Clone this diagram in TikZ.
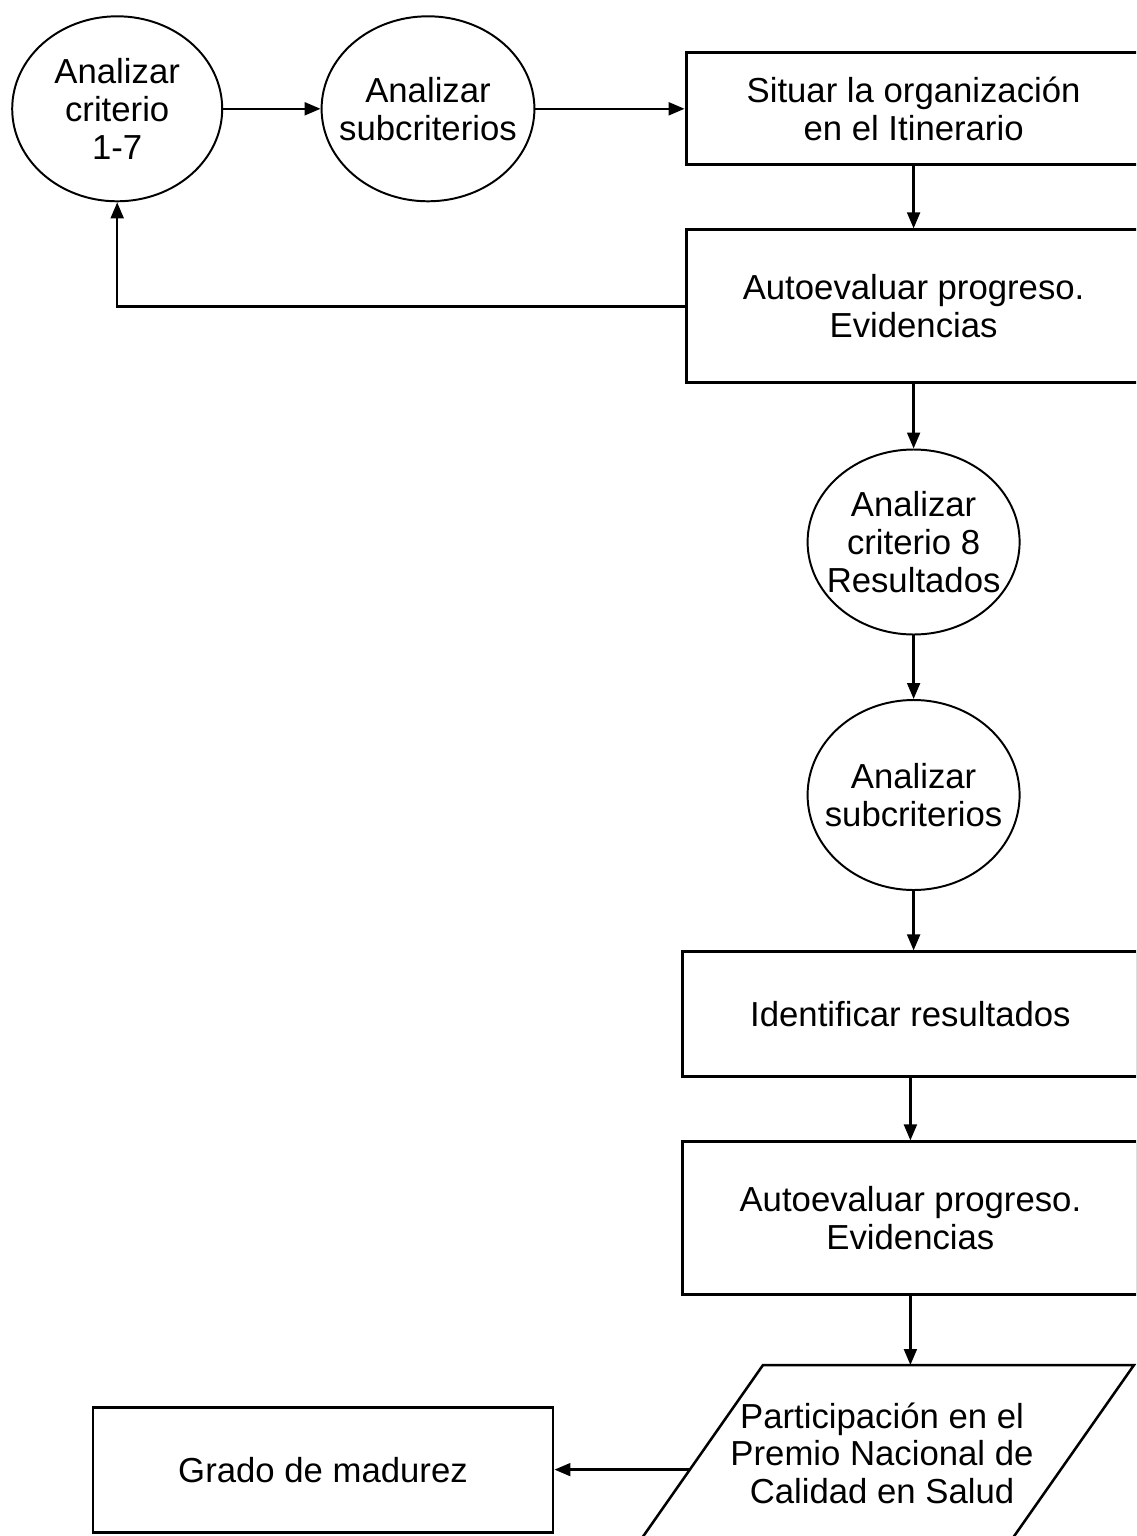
\documentclass[tikz,border=0pt]{standalone}
\usepackage{fontspec}
\setmainfont{Liberation Sans}
\usetikzlibrary{arrows.meta, shapes.geometric}

\begin{document}
\begin{tikzpicture}[
    font=\fontsize{24.7}{26.9}\selectfont,
    >={Triangle[length=4mm,width=3.2mm]},
    blk/.style={draw, line width=2.1pt, align=center,
                minimum width=11.375cm, minimum height=3.825cm},
    act/.style={draw, ellipse, line width=1.4pt, align=center,
                inner sep=-3cm, minimum width=5.3cm, minimum height=4.625cm},
    io/.style={draw, line width=1.8pt},
    lab/.style={align=center, inner sep=0pt},
    sig/.style={->, line width=1.8pt},
  ]
  \useasboundingbox (0,0) rectangle (28.4,-38.4);
  \clip (0,0) rectangle (28.4,-38.4);

  %% ---- criteria 1-7 (top row) ---------------------------------------
  \node[act, minimum width=5.25cm] (C1) at ( 2.93,-2.72) {Analizar\\criterio\\1-7};
  \node[act, minimum width=5.32cm] (C2) at (10.70,-2.72) {Analizar\\subcriterios};
  \node[blk, minimum height=2.8cm] (R1) at (22.84,-2.72)
  {Situar la organización\\en el Itinerario};

  \draw[sig] (C1.east) -- (C2.west);
  \draw[sig] (C2.east) -- (R1.west);

  \node[blk] (R2) at (22.84,-7.66) {Autoevaluar progreso.\\Evidencias};
  \draw[sig] (R1.south) -- (R2.north);

  % loop back to the first criterion
  \draw[sig] (R2.west) -| (C1.south);

  %% ---- criterion 8 (right column) ------------------------------------
  \node[act] (C3) at (22.84,-13.55) {Analizar\\criterio 8\\Resultados};
  \node[act, minimum height=4.75cm] (C4) at (22.84,-19.875) {Analizar\\subcriterios};
  \draw[sig] (R2.south) -- (C3.north);
  \draw[sig] (C3.south) -- (C4.north);

  \node[blk, minimum height=3.125cm] (R3) at (22.76,-25.36) {Identificar resultados};
  \node[blk] (R4) at (22.76,-30.46) {Autoevaluar progreso.\\Evidencias};
  \draw[sig] (C4.south) -- (C4.south |- R3.north);
  \draw[sig] (R3.south) -- (R4.north);

  %% ---- award and result ------------------------------------------------
  \coordinate (P1) at (19.075,-34.125);
  \coordinate (P2) at (28.35,-34.125);
  \coordinate (P3) at (25.11,-38.75);
  \coordinate (P4) at (15.84,-38.75);
  \draw[io] (P1) -- (P2) -- (P3) -- (P4) -- cycle;
  \node[lab] (P) at (22.05,-36.33)
  {Participación en el\\Premio Nacional de\\Calidad en Salud};
  \draw[sig] (R4.south) -- (R4.south |- P1);

  \node[blk, minimum width=11.5cm, minimum height=3.125cm] (R5) at (8.075,-36.74)
  {Grado de madurez};
  \coordinate (Pw) at (17.25,-36.74);
  \draw[sig] (Pw) -- (R5.east);

\end{tikzpicture}
\end{document}
